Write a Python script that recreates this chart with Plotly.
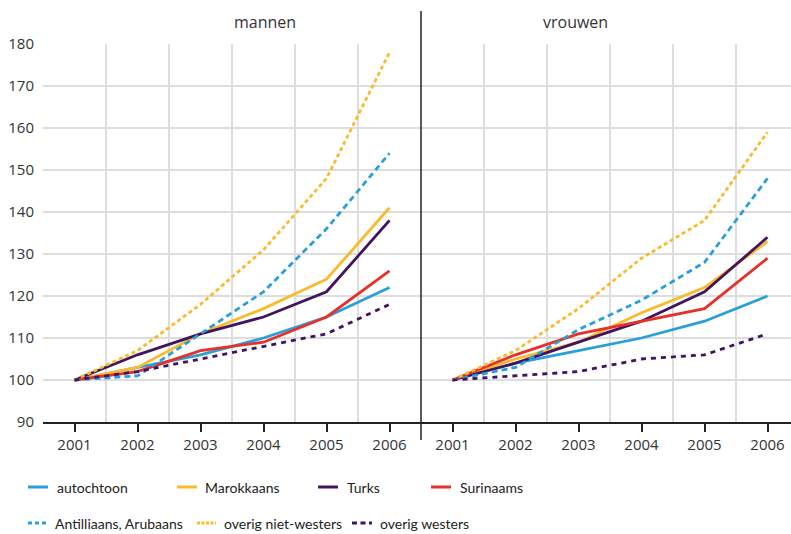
import plotly.graph_objects as go

years = [2001, 2002, 2003, 2004, 2005, 2006]
y_ticks = [90, 100, 110, 120, 130, 140, 150, 160, 170, 180]

series_names = ["autochtoon", "Marokkaans", "Turks", "Surinaams",
                "Antilliaans, Arubaans", "overig niet-westers", "overig westers"]

# index 2001 = 100
mannen_autochtoon = [100, 103, 106, 110, 115, 122]
mannen_marokkaans = [100, 103, 111, 117, 124, 141]
mannen_turks = [100, 106, 111, 115, 121, 138]
mannen_surinaams = [100, 102, 107, 109, 115, 126]
mannen_antilliaans = [100, 101, 111, 121, 136, 154]
mannen_overig_nw = [100, 107, 118, 131, 148, 178]
mannen_overig_w = [100, 102, 105, 108, 111, 118]

vrouwen_autochtoon = [100, 104, 107, 110, 114, 120]
vrouwen_marokkaans = [100, 105, 109, 116, 122, 133]
vrouwen_turks = [100, 104, 109, 114, 121, 134]
vrouwen_surinaams = [100, 106, 111, 114, 117, 129]
vrouwen_antilliaans = [100, 103, 112, 119, 128, 148]
vrouwen_overig_nw = [100, 107, 117, 129, 138, 159]
vrouwen_overig_w = [100, 101, 102, 105, 106, 111]

mannen = [mannen_autochtoon, mannen_marokkaans, mannen_turks, mannen_surinaams,
          mannen_antilliaans, mannen_overig_nw, mannen_overig_w]
vrouwen = [vrouwen_autochtoon, vrouwen_marokkaans, vrouwen_turks, vrouwen_surinaams,
           vrouwen_antilliaans, vrouwen_overig_nw, vrouwen_overig_w]

BLUE = "#2a9fd9"
YELLOW = "#fbb92c"
PURPLE = "#42145f"
RED = "#e8302a"
styles = [
    (BLUE, "solid"),
    (YELLOW, "solid"),
    (PURPLE, "solid"),
    (RED, "solid"),
    (BLUE, "6px,4px"),
    (YELLOW, "4px,3px"),
    (PURPLE, "5px,5px"),
]
# shorter dashes for the legend keys
key_dash = ["solid", "solid", "solid", "solid", "4px,3px", "3px,1.5px", "5px,3.5px"]

W, H = 791, 534
x_left, x_mid, x_right = 43, 421, 791
y_top, y_bot = 44, 422

# legend key: line start, line end, text start, row centre (px)
legend_pos = [(28, 48, 55, 487), (177, 197, 203, 487), (318, 338, 345, 487), (431, 451, 458, 487),
              (28, 47, 53, 523), (197, 216, 222, 523), (352, 372, 378, 523)]

fig = go.Figure()
for name, (color, dash), m, v in zip(series_names, styles, mannen, vrouwen):
    fig.add_trace(go.Scatter(x=years, y=m, name=name, mode="lines", showlegend=False,
                             line=dict(color=color, width=2.8, dash=dash),
                             xaxis="x", yaxis="y"))
    fig.add_trace(go.Scatter(x=years, y=v, name=name, mode="lines", showlegend=False,
                             line=dict(color=color, width=2.8, dash=dash),
                             xaxis="x2", yaxis="y2"))

grid = "#dddddd"
tick_font = dict(family="Open Sans, Lato, sans-serif", size=15, color="#333333")
xaxis_common = dict(
    tickvals=years, showgrid=False, zeroline=False, automargin=False,
    showline=True, linecolor="#222222", linewidth=1.5,
    ticks="outside", ticklen=8, tickwidth=1.5, tickcolor="#222222",
    tickfont=tick_font,
    minor=dict(tick0=2000.5, dtick=1, showgrid=True, gridcolor=grid, gridwidth=1.5, ticks=""),
)
# right panel runs off the picture edge
right_span = (x_right - x_mid) / ((x_mid - x_left) / 6)

shapes = [
    dict(type="line", xref="paper", yref="paper", x0=x_mid / W, x1=x_mid / W,
         y0=1 - 440 / H, y1=1 - 11 / H, line=dict(color="#222222", width=1.5)),
]
annotations = [
    dict(text="mannen", x=(x_left + x_mid) / 2 / W, y=1 - 22 / H, xref="paper", yref="paper",
         yanchor="middle", showarrow=False,
         font=dict(family="Open Sans, sans-serif", size=16, color="#333333")),
    dict(text="vrouwen", x=(x_mid + 799) / 2 / W, y=1 - 22 / H, xref="paper", yref="paper",
         yanchor="middle", showarrow=False,
         font=dict(family="Open Sans, sans-serif", size=16, color="#333333")),
]
# hand-placed legend (short keys, as in the original)
for name, (color, _), kd, (lx0, lx1, tx, ty) in zip(series_names, styles, key_dash, legend_pos):
    shapes.append(dict(type="line", xref="paper", yref="paper", x0=lx0 / W, x1=lx1 / W,
                       y0=1 - ty / H, y1=1 - ty / H, line=dict(color=color, width=3, dash=kd)))
    annotations.append(dict(text=name, x=tx / W, y=1 - ty / H, xref="paper", yref="paper",
                            xanchor="left", yanchor="middle", showarrow=False,
                            font=dict(family="Lato, sans-serif", size=14, color="#222222")))

fig.update_layout(
    width=W, height=H,
    margin=dict(l=0, r=0, t=0, b=0),
    plot_bgcolor="white", paper_bgcolor="white",
    showlegend=False,
    xaxis=dict(domain=[x_left / W, x_mid / W], range=[2000.5, 2006.5], anchor="y", **xaxis_common),
    xaxis2=dict(domain=[x_mid / W, 1], range=[2000.5, 2000.5 + right_span], anchor="y2", **xaxis_common),
    yaxis=dict(domain=[1 - y_bot / H, 1 - y_top / H], range=[90, 180], tickvals=y_ticks,
               showgrid=True, gridcolor=grid, gridwidth=1.5, zeroline=False, showline=False,
               tickfont=tick_font, ticklabelstandoff=8, anchor="x", automargin=False),
    yaxis2=dict(domain=[1 - y_bot / H, 1 - y_top / H], range=[90, 180], tickvals=y_ticks,
                showgrid=True, gridcolor=grid, gridwidth=1.5, zeroline=False, showline=False,
                showticklabels=False, anchor="x2", automargin=False),
    annotations=annotations,
    shapes=shapes,
)

# drop the browser's default body margin so the figure sits at the page corner
fig.write_html("out.html", config={"displayModeBar": False},
               post_script="document.body.style.margin='0';")
